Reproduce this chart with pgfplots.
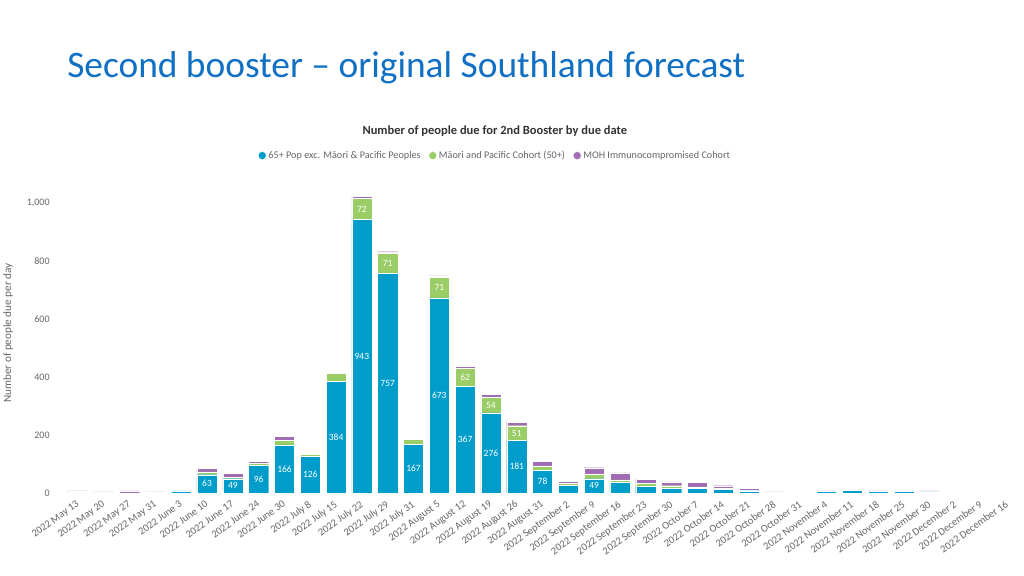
\documentclass[border=0pt]{standalone}
\usepackage{fontspec}
\setmainfont{Carlito}
\usepackage{pgfplots}
\pgfplotsset{compat=1.18}
\usepackage{pgfplotstable}
\definecolor{cBlue}{HTML}{009DCB}
\definecolor{cGreen}{HTML}{9BCD66}
\definecolor{cPurple}{HTML}{A06CB4}
\definecolor{titleBlue}{HTML}{1070C4}
\definecolor{axGray}{HTML}{666666}
\definecolor{ttlGray}{HTML}{333333}

\pgfplotstableread{
x b g p
0 2 0 5
1 0 0 4
2 0 0 7
3 0 0 4
4 7 0 1
5 63 10 11
6 49 5 13
7 96 6 8
8 166 16 14
9 126 7 1
10 384 28 1
11 943 72 9
12 757 71 4
13 167 18 1
14 673 71 5
15 367 62 7
16 276 54 9
17 181 51 12
18 78 15 16
19 26 7 8
20 49 15 23
21 36 9 24
22 22 11 15
23 16 9 13
24 17 4 16
25 13 2 10
26 7 1 8
27 0 0 4
28 0 0 3
29 6 0 1
30 10 1 2
31 6 0 1
32 5 0 0
33 4 0 3
34 3 0 0
35 2 0 0
36 2 0 0
}\data

\pgfplotstableread{
x base seg
5 0 63
6 0 49
7 0 96
8 0 166
9 0 126
10 0 384
11 0 943
12 0 757
13 0 167
14 0 673
15 0 367
16 0 276
17 0 181
18 0 78
20 0 49
11 943 72
12 757 71
14 673 71
15 367 62
16 276 54
17 181 51
}\lbls

\begin{document}
\begin{tikzpicture}
\path[fill=white] (0bp,0bp) rectangle (1024bp,576bp);
\node[anchor=base west, text=titleBlue, font=\fontsize{37.4bp}{44bp}\selectfont, inner sep=0pt] at (67bp,498bp) {Second booster – original Southland forecast};
\node[rotate=90, text=axGray, font=\fontsize{11.2bp}{13bp}\selectfont] at (8bp,243bp) {Number of people due per day};
\begin{axis}[
  at={(65bp,83bp)}, anchor=south west, scale only axis,
  width=955bp, height=304.5bp,
  xmin=-0.5, xmax=36.5, ymin=0, ymax=1050,
  ybar stacked, bar width=0.78,
  axis line style={draw=none}, major tick length=0pt,
  xtick={0,...,36},
  xticklabels={2022 May 13,2022 May 20,2022 May 27,2022 May 31,2022 June 3,2022 June 10,2022 June 17,2022 June 24,2022 June 30,2022 July 8,2022 July 15,2022 July 22,2022 July 29,2022 July 31,2022 August 5,2022 August 12,2022 August 19,2022 August 26,2022 August 31,2022 September 2,2022 September 9,2022 September 16,2022 September 23,2022 September 30,2022 October 7,2022 October 14,2022 October 21,2022 October 28,2022 October 31,2022 November 4,2022 November 11,2022 November 18,2022 November 25,2022 November 30,2022 December 2,2022 December 9,2022 December 16},
  xticklabel style={rotate=36, anchor=north east, font=\fontsize{10.5bp}{12bp}\selectfont, text=axGray, inner sep=1bp, xshift=-5bp, yshift=-3bp},
  ytick={0,200,400,600,800,1000},
  yticklabels={0,200,400,600,800,{1,000}},
  yticklabel style={font=\fontsize{10bp}{12bp}\selectfont, text=axGray, xshift=-12bp},
  title={Number of people due for 2nd Booster by due date},
  title style={at={(0.45,1.168)}, anchor=center, font=\bfseries\fontsize{12.5bp}{14bp}\selectfont, text=ttlGray},
  legend style={at={(0.4503,1.108)}, anchor=center, draw=none, fill=none,
    legend columns=3, font=\fontsize{10.2bp}{12bp}\selectfont, text=axGray,
    /tikz/every even column/.append style={column sep=6bp}},
  legend image code/.code={\fill[#1] (2bp,0bp) circle (4bp);},
]
\addplot[fill=cBlue, draw=white, line width=0.3bp] table[x=x,y=b]{\data};
\addplot[fill=cGreen, draw=white, line width=0.3bp] table[x=x,y=g]{\data};
\addplot[fill=cPurple, draw=white, line width=0.3bp] table[x=x,y=p]{\data};
\legend{65+ Pop exc. Māori \& Pacific Peoples, Māori and Pacific Cohort (50+), MOH Immunocompromised Cohort}
\end{axis}
\begin{axis}[
  at={(65bp,83bp)}, anchor=south west, scale only axis,
  width=955bp, height=304.5bp,
  xmin=-0.5, xmax=36.5, ymin=0, ymax=1050,
  hide axis,
]
\addplot[draw=none, mark=none, nodes near coords, point meta=explicit symbolic,
  nodes near coords style={anchor=center, text=white, font=\fontsize{9.5bp}{11bp}\selectfont}]
  table[x=x, y expr=\thisrow{base}+\thisrow{seg}/2, meta=seg]{\lbls};
\end{axis}
\end{tikzpicture}
\end{document}
